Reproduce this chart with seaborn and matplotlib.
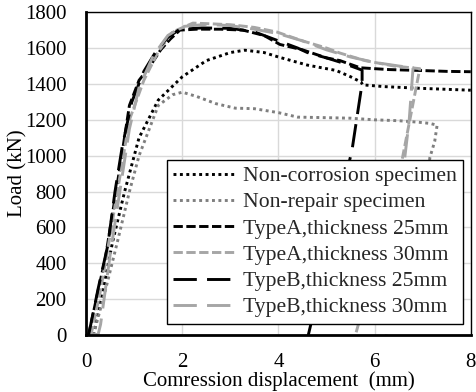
import matplotlib
matplotlib.use("Agg")
import matplotlib.pyplot as plt
import seaborn as sns

# Load-displacement curves
nc_x = [0.15, 0.35, 0.55, 0.8, 1.1, 1.5, 2.0, 2.5, 3.0, 3.3, 3.7, 4.0, 4.6, 5.2, 5.5, 5.72, 5.75, 6.2, 7.0, 8.0]
nc_y = [0, 250, 520, 800, 1100, 1310, 1440, 1530, 1575, 1588, 1575, 1550, 1505, 1475, 1440, 1410, 1395, 1385, 1375, 1365]

nr_x = [0.15, 0.4, 0.65, 0.9, 1.1, 1.5, 1.8, 2.0, 2.3, 2.7, 3.1, 3.5, 4.0, 4.4, 5.0, 5.5, 6.0, 6.5, 6.9, 7.15, 7.3, 7.25, 7.15, 6.9]
nr_y = [0, 250, 520, 800, 1000, 1280, 1340, 1354, 1330, 1290, 1265, 1262, 1240, 1215, 1212, 1209, 1200, 1195, 1187, 1180, 1170, 1080, 990, 500]

a25_x = [0.05, 0.25, 0.4, 0.55, 0.7, 0.9, 1.1, 1.33, 1.55, 1.75, 1.95, 2.3, 2.8, 3.26, 3.7, 4.03, 4.5, 5.0, 5.28, 5.7, 6.3, 6.94, 7.5, 8.0]
a25_y = [0, 250, 430, 680, 930, 1280, 1420, 1500, 1590, 1650, 1700, 1705, 1705, 1700, 1670, 1620, 1590, 1545, 1530, 1490, 1480, 1475, 1470, 1468]

a30_x = [0.1, 0.3, 0.5, 0.7, 0.9, 1.2, 1.5, 1.8, 2.22, 2.6, 3.0, 3.5, 3.97, 4.5, 5.0, 5.28, 5.8, 6.4, 6.94, 6.57, 6.1, 5.6]
a30_y = [0, 250, 560, 880, 1200, 1420, 1580, 1690, 1739, 1735, 1730, 1715, 1689, 1640, 1600, 1572, 1530, 1500, 1485, 975, 480, 0]

b25_x = [0.05, 0.25, 0.45, 0.6, 0.75, 0.95, 1.2, 1.45, 1.7, 1.95, 2.4, 3.0, 3.5, 4.0, 4.4, 4.6, 5.0, 5.3, 5.74, 5.74, 5.63, 5.53, 4.62]
b25_y = [0, 260, 500, 800, 1050, 1300, 1470, 1580, 1660, 1705, 1712, 1710, 1690, 1640, 1600, 1575, 1545, 1520, 1477, 1404, 1209, 1031, 0]

b30_x = [0.1, 0.25, 0.3, 0.5, 0.7, 0.9, 1.1, 1.4, 1.7, 2.0, 2.5, 3.0, 3.5, 4.0, 4.5, 5.0, 5.5, 6.0, 6.5, 6.8, 6.72, 6.5, 6.24]
b30_y = [0, 5, 60, 450, 800, 1150, 1380, 1560, 1670, 1720, 1732, 1725, 1705, 1680, 1640, 1590, 1550, 1520, 1500, 1490, 1200, 700, 0]

labels = ["Non-corrosion specimen", "Non-repair specimen",
          "TypeA,thickness 25mm", "TypeA,thickness 30mm",
          "TypeB,thickness 25mm", "TypeB,thickness 30mm"]

sns.set_theme(style="whitegrid")
plt.rcParams["font.family"] = ["Liberation Serif", "DejaVu Serif"]

fig, ax = plt.subplots(figsize=(4.76, 3.92), dpi=100)
fig.subplots_adjust(left=0.181, right=0.989, bottom=0.145, top=0.969)

black = "black"
grey = "#a6a6a6"
series = [
    (nc_x, nc_y, black, (0, (1, 1.2))),
    (nr_x, nr_y, "#7f7f7f", (0, (1, 1.2))),
    (a25_x, a25_y, black, (0, (3.2, 1.2))),
    (a30_x, a30_y, grey, (0, (3.2, 1.2))),
    (b25_x, b25_y, black, (0, (8, 3.5))),
    (b30_x, b30_y, grey, (0, (8, 3.5))),
]
for (x, y, c, ls), lab in zip(series, labels):
    sns.lineplot(x=x, y=y, sort=False, estimator=None, color=c,
                 linestyle=ls, lw=2.1, label=lab, ax=ax)

ax.set_xlim(0, 8)
ax.set_ylim(0, 1800)
ax.set_xticks([0, 2, 4, 6, 8])
ax.set_yticks(range(0, 1801, 200))
ax.grid(True, color="#d9d9d9", lw=1)
ax.set_facecolor("white")
for s in ["left", "bottom"]:
    ax.spines[s].set_color("black")
    ax.spines[s].set_linewidth(2)
for s in ["top", "right"]:
    ax.spines[s].set_color("black")
    ax.spines[s].set_linewidth(1)
ax.tick_params(labelsize=15, length=0, colors="black")
ax.tick_params(axis="x", pad=13)
ax.tick_params(axis="y", pad=14)
ax.set_xlabel("Comression displacement  (mm)", fontsize=15, labelpad=-1, color="black")
ax.set_ylabel("Load (kN)", fontsize=15, labelpad=-2, color="black")

leg = ax.legend(loc="lower right", bbox_to_anchor=(0.98, 0.035), fontsize=15.6,
                frameon=True, fancybox=False, framealpha=1, edgecolor="black",
                handlelength=2.9, handletextpad=0.3, labelspacing=0.28,
                borderpad=0.3, borderaxespad=0)
leg.get_frame().set_linewidth(1)

fig.savefig("out.png", dpi=100)
